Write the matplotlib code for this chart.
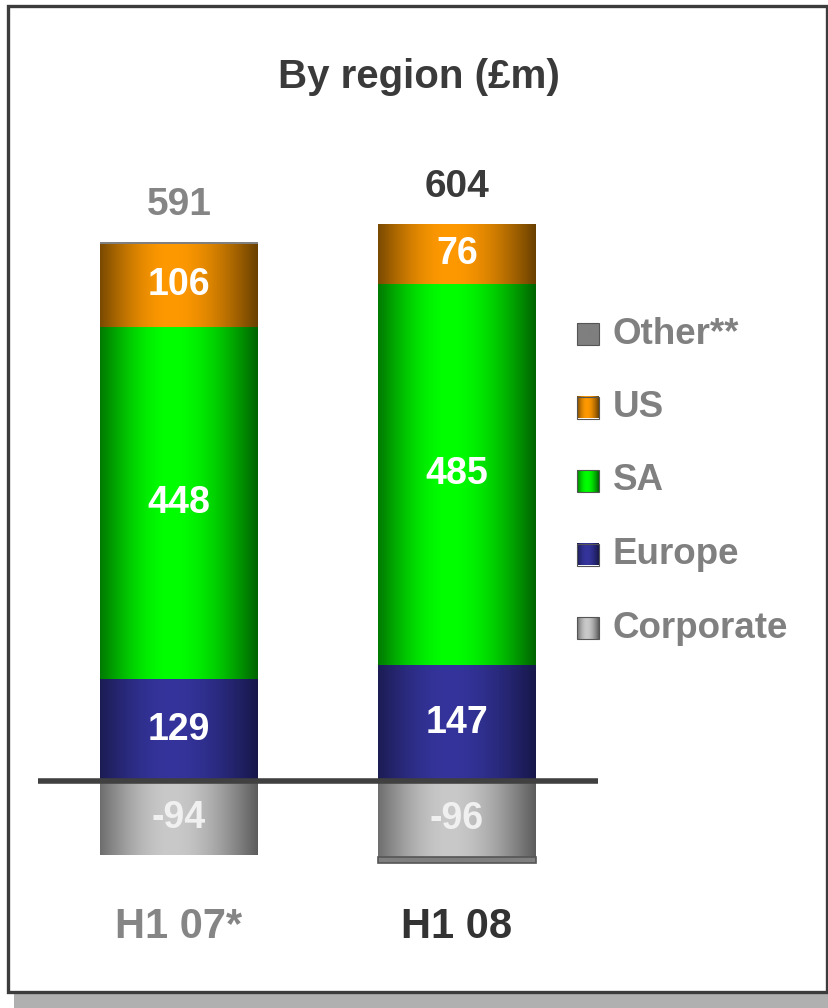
import numpy as np
import matplotlib.pyplot as plt
from matplotlib.patches import Rectangle

plt.rcParams['font.family'] = ['Liberation Sans', 'DejaVu Sans']
plt.rcParams['font.weight'] = 'bold'

# --- data (GBP m) ---
periods = ['H1 07*', 'H1 08']
corporate = [-94, -96]
europe = [129, 147]
sa = [448, 485]
us = [106, 76]
other = [2, -8]
totals = [591, 604]

period_colors = ['#858585', '#333333']
total_colors = ['#858585', '#3a3a3a']

# (left edge, centre, right edge) for the shaded cylinder look
shades = {
    'Corporate': ('#6e6e6e', '#c9c9c9', '#5c5c5c'),
    'Europe': ('#1c1c55', '#34349c', '#17174a'),
    'SA': ('#007a00', '#00ff00', '#006400'),
    'US': ('#7a4a00', '#ff9900', '#6a4000'),
    'Other**': ('#7f7f7f', '#7f7f7f', '#7f7f7f'),
}


def hex2rgb(h):
    h = h.lstrip('#')
    return np.array([int(h[i:i + 2], 16) / 255 for i in (0, 2, 4)])


def gradient(name, n=200, peak=0.45):
    left, mid, right = (hex2rgb(c) for c in shades[name])
    t = np.linspace(0, 1, n)
    img = np.zeros((1, n, 3))
    for i, v in enumerate(t):
        if v < peak:
            w = np.sin(np.pi / 2 * v / peak)
            img[0, i] = left + (mid - left) * w
        else:
            w = np.sin(np.pi / 2 * (1 - v) / (1 - peak))
            img[0, i] = right + (mid - right) * w
    return img


W, H = 829, 1008
fig = plt.figure(figsize=(W / 100, H / 100), dpi=100)

# background: drop shadow + framed panel, in pixel units
bg = fig.add_axes([0, 0, 1, 1])
bg.set_xlim(0, W)
bg.set_ylim(H, 0)
bg.axis('off')
bg.add_patch(Rectangle((14, 12), W, H, facecolor='#b0b0b0', edgecolor='none'))
bg.add_patch(Rectangle((8.5, 5.5), 819, 986, facecolor='white',
                       edgecolor='#3c3c3c', linewidth=2.4))

bg.text(419, 77, 'By region (£m)', ha='center', va='center',
        fontsize=29, color='#3a3a3a')

# legend, top entry first
legend_items = ['Other**', 'US', 'SA', 'Europe', 'Corporate']
for k, name in enumerate(legend_items):
    yc = 334 + 73.5 * k
    bg.imshow(gradient(name), extent=[577, 599, yc + 11, yc - 11],
              aspect='auto', interpolation='bilinear', zorder=3)
    bg.add_patch(Rectangle((577, yc - 11), 22, 22, facecolor='none',
                           edgecolor='#555555', linewidth=0.8, zorder=4))
    bg.text(613, yc, name, ha='left', va='center', fontsize=26.5, color='#808080')
bg.set_xlim(0, W)
bg.set_ylim(H, 0)

# main stacked bars
ax = fig.add_axes([38 / W, 0.1081, 560 / W, 0.7026])
ax.patch.set_alpha(0)
bar_w = 0.568
x = np.arange(len(periods))

for i in x:
    pos_base = 0
    neg_base = 0
    for name, vals in [('Corporate', corporate), ('Europe', europe),
                       ('SA', sa), ('US', us), ('Other**', other)]:
        v = vals[i]
        if v >= 0:
            y0, y1 = pos_base, pos_base + v
            pos_base = y1
        else:
            y0, y1 = neg_base + v, neg_base
            neg_base = y0
        if name == 'Other**':
            ax.bar(i, y1 - y0, bottom=y0, width=bar_w, color='#7f7f7f',
                   edgecolor='#555555', linewidth=1.2 if v < 0 else 0, zorder=2)
            continue
        ax.imshow(gradient(name), extent=[i - bar_w / 2, i + bar_w / 2, y0, y1],
                  aspect='auto', interpolation='bilinear', zorder=2)
        ax.text(i, (y0 + y1) / 2, str(v), ha='center', va='center',
                fontsize=27, color='white' if v > 0 else '#f0f0f0', zorder=4)
    ax.annotate(str(totals[i]), xy=(i, pos_base), xytext=(0, 37),
                textcoords='offset pixels', ha='center', va='center',
                fontsize=28, color=total_colors[i])
    ax.annotate(periods[i], xy=(i, 0), xytext=(0, -146),
                textcoords='offset pixels', ha='center', va='center',
                fontsize=30, color=period_colors[i])

ax.axhline(0, color='#404040', linewidth=4, zorder=5)
ax.set_xlim(-0.5072, 1.5072)
ax.set_ylim(-150, 750)
ax.axis('off')

fig.savefig('out.png', dpi=100)
